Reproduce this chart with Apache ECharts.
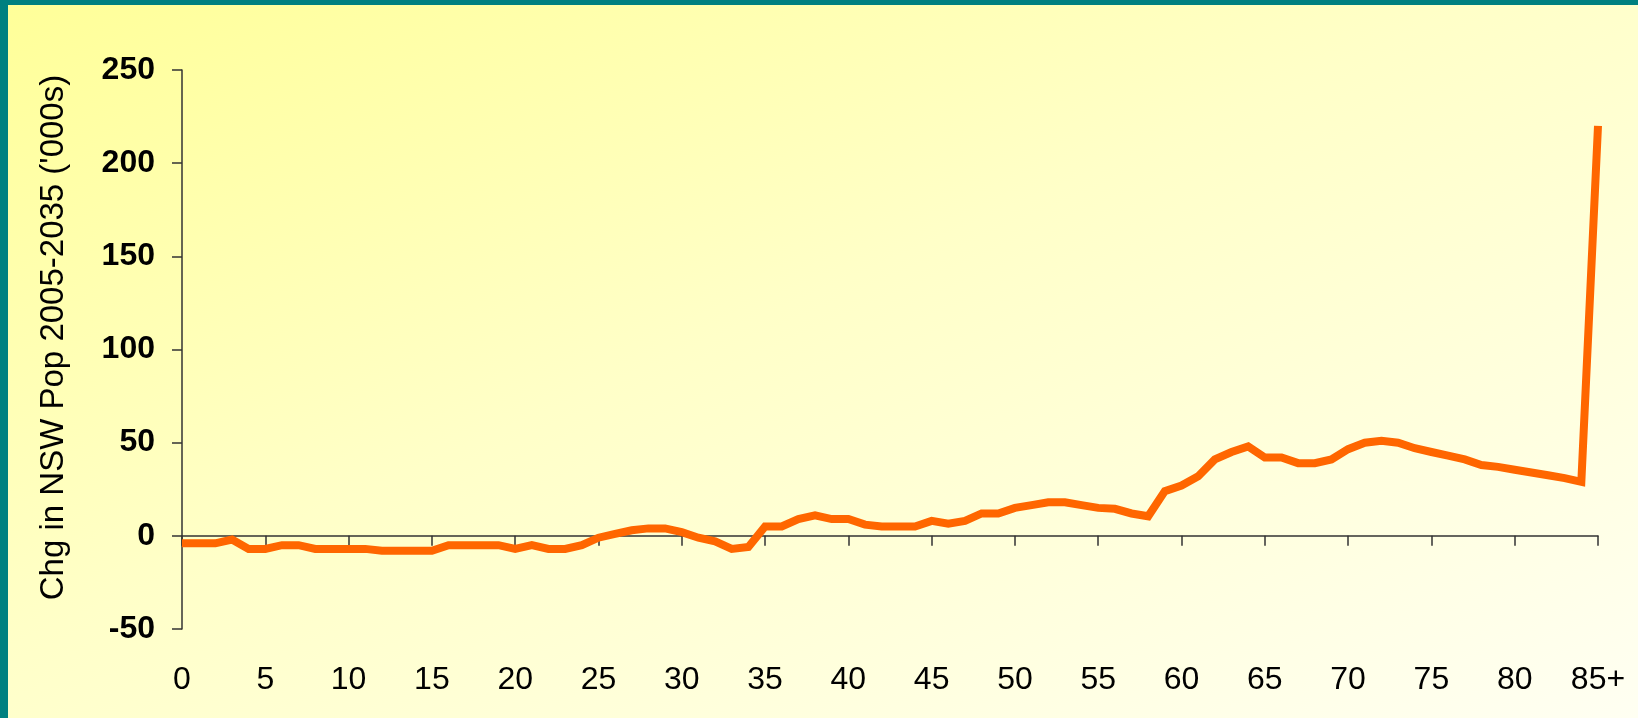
<!DOCTYPE html>
<html>
<head>
<meta charset="utf-8" />
<title>NSW population change by age</title>
<script type="text/javascript" src="https://cdn.jsdelivr.net/npm/echarts@6/dist/echarts.min.js"></script>
<style>
  html, body { margin: 0; padding: 0; }
  #container {
    width: 1638px; height: 718px; box-sizing: border-box;
    border-top: 5px solid #008080; border-left: 8px solid #008080;
    background: linear-gradient(to bottom right, #FFFF99 0%, #FFFFC8 45%, #FFFFF2 100%);
  }
</style>
</head>
<body>
<div id="container"></div>
<script type="text/javascript">
var ages = ['0','1','2','3','4','5','6','7','8','9',
  '10','11','12','13','14','15','16','17','18','19',
  '20','21','22','23','24','25','26','27','28','29',
  '30','31','32','33','34','35','36','37','38','39',
  '40','41','42','43','44','45','46','47','48','49',
  '50','51','52','53','54','55','56','57','58','59',
  '60','61','62','63','64','65','66','67','68','69',
  '70','71','72','73','74','75','76','77','78','79',
  '80','81','82','83','84','85+'];

// change in population 2005-2035, thousands
var popChange = [-4, -4, -4, -2, -7, -7, -5, -5, -7, -7,
  -7, -7, -8, -8, -8, -8, -5, -5, -5, -5,
  -7, -5, -7, -7, -5, -1, 1, 3, 4, 4,
  2, -1, -3, -7, -6, 5, 5, 9, 11, 9,
  9, 6, 5, 5, 5, 8, 6.5, 8, 12, 12,
  15, 16.5, 18, 18, 16.5, 15, 14.5, 12, 10.5, 24,
  27, 32, 41, 45, 48, 42, 42, 39, 39, 41,
  46.5, 50, 51, 50, 47, 45, 43, 41, 38, 37,
  35.5, 34, 32.5, 31, 29, 220];

var yTicks = [-50, 0, 50, 100, 150, 200, 250];

var font = '"Liberation Sans", Arial, sans-serif';
var axisColor = '#333333';

var myChart = echarts.init(document.getElementById('container'));
var option = {
    backgroundColor: 'transparent',
    animation: false,
    grid: { left: 174, right: 40, top: 65, bottom: 89, containLabel: false },
    xAxis: [
        {
            type: 'category',
            data: ages,
            boundaryGap: false,
            position: 'bottom',
            axisLine: { show: false, onZero: false },
            axisTick: { show: false },
            axisLabel: { interval: 4, margin: 35, fontSize: 32, color: '#000', fontFamily: font }
        },
        {
            type: 'category',
            data: ages,
            boundaryGap: false,
            position: 'bottom',
            axisLine: { show: true, onZero: true, lineStyle: { color: axisColor, width: 1.5 } },
            axisTick: { show: true, interval: 4, length: 10, lineStyle: { color: axisColor, width: 1.5 } },
            axisLabel: { show: false },
            splitLine: { show: false }
        }
    ],
    yAxis: {
        type: 'value',
        min: yTicks[0],
        max: yTicks[yTicks.length - 1],
        interval: 50,
        name: "Chg in NSW Pop 2005-2035 ('000s)",
        nameLocation: 'middle',
        nameGap: 112,
        nameTextStyle: { fontSize: 33, color: '#000', fontFamily: font, padding: [0, 0, 0, 24] },
        axisLine: { show: true, lineStyle: { color: axisColor, width: 1.5 } },
        axisTick: { show: true, length: 10, lineStyle: { color: axisColor, width: 1.5 } },
        axisLabel: { margin: 27, fontSize: 32, fontWeight: 'bold', color: '#000', fontFamily: font },
        splitLine: { show: false }
    },
    series: [
        {
            type: 'line',
            xAxisIndex: 0,
            data: popChange,
            showSymbol: false,
            symbol: 'none',
            lineStyle: { color: '#FF6600', width: 8, join: 'miter' }
        }
    ]
};
myChart.setOption(option);
</script>
</body>
</html>
